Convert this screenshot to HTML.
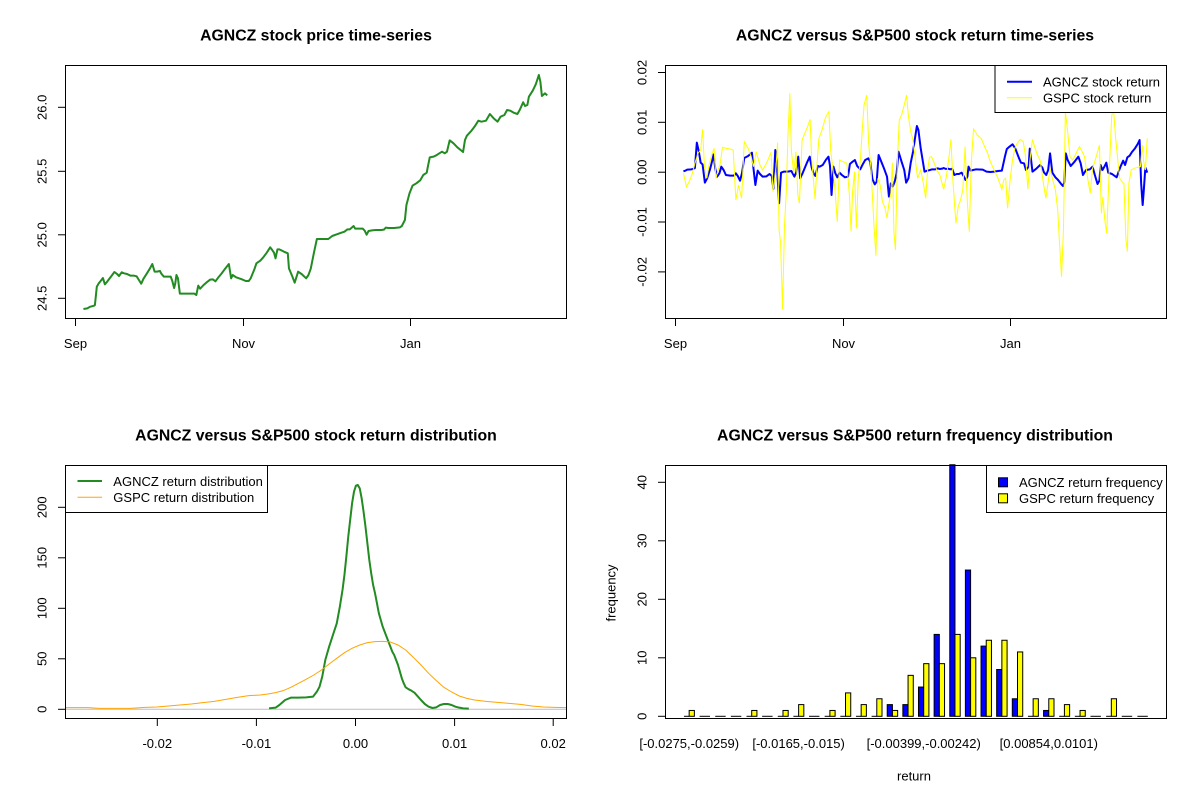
<!DOCTYPE html>
<html><head><meta charset="utf-8"><style>
html,body{margin:0;padding:0;background:#fff;}
svg{display:block;font-family:"Liberation Sans",Arial,sans-serif;}
.t{font-size:15.8px;font-weight:bold;text-anchor:middle;}
.l{font-size:13px;text-anchor:middle;}
.lg{font-size:13px;}
</style></head><body>
<svg width="1200" height="800" viewBox="0 0 1200 800" xmlns="http://www.w3.org/2000/svg">
<rect width="1200" height="800" fill="#fff"/>

<!-- ============ PANEL 1 ============ -->
<text class="t" x="316" y="40.5">AGNCZ stock price time-series</text>
<g transform="translate(0,50) scale(0.3827,0.33333)">
<polyline fill="none" stroke="#228B22" stroke-width="2" vector-effect="non-scaling-stroke" stroke-linejoin="round" points="218,777 228,775 236,770 246,767 248,765 253,710 258,700 265,690 269,684 274,703 280,695 290,680 299,666 306,672 311,678 318,667 324,670 332,672 341,677 350,677 357,679 363,690 369,701 375,686 384,670 392,655 398,642 404,665 410,665 418,663 421,670 428,680 440,680 446,680 450,692 455,714 458,700 461,675 465,685 470,731 478,731 490,731 500,731 508,731 513,735 518,707 523,716 532,705 540,697 549,689 556,688 563,694 570,683 578,672 589,655 598,642 604,685 608,675 617,682 632,688 642,693 650,693 655,685 665,657 670,640 680,632 688,622 697,608 706,592 710,598 716,608 720,625 725,598 730,598 742,605 752,610 755,655 763,677 770,698 779,665 788,672 800,685 806,675 812,656 820,610 828,567 836,567 848,567 858,567 868,558 880,553 892,548 900,545 908,538 914,538 918,534 924,528 928,536 938,536 948,536 953,542 958,554 963,543 972,541 982,540 996,540 1003,539 1008,533 1015,534 1030,534 1045,532 1050,528 1058,510 1062,465 1070,430 1078,407 1088,400 1098,391 1106,375 1115,368 1118,350 1123,322 1133,320 1140,316 1148,310 1155,305 1162,310 1168,305 1175,271 1185,280 1195,292 1210,306 1215,270 1220,257 1232,242 1240,230 1250,212 1258,215 1270,212 1280,192 1290,205 1300,215 1308,200 1318,195 1325,180 1333,182 1342,188 1352,192 1358,180 1367,157 1372,168 1378,165 1382,140 1392,122 1400,103 1408,75 1412,95 1416,138 1424,130 1430,136"/>
</g>
<rect x="65.5" y="65.5" width="501" height="253" fill="none" stroke="#000" stroke-width="1"/>
<g stroke="#000" stroke-width="1">
<line x1="58" y1="107.3" x2="65.5" y2="107.3"/>
<line x1="58" y1="171.3" x2="65.5" y2="171.3"/>
<line x1="58" y1="234.8" x2="65.5" y2="234.8"/>
<line x1="58" y1="298.3" x2="65.5" y2="298.3"/>
<line x1="75.5" y1="318.5" x2="75.5" y2="326"/>
<line x1="243.5" y1="318.5" x2="243.5" y2="326"/>
<line x1="410.5" y1="318.5" x2="410.5" y2="326"/>
</g>
<g class="l">
<text class="l" transform="translate(46.5,107.3) rotate(-90)">26.0</text>
<text class="l" transform="translate(46.5,171.3) rotate(-90)">25.5</text>
<text class="l" transform="translate(46.5,234.8) rotate(-90)">25.0</text>
<text class="l" transform="translate(46.5,298.3) rotate(-90)">24.5</text>
<text class="l" x="75.5" y="348">Sep</text>
<text class="l" x="243.5" y="348">Nov</text>
<text class="l" x="410.5" y="348">Jan</text>
</g>

<!-- ============ PANEL 2 ============ -->
<text class="t" x="915" y="40.5">AGNCZ versus S&amp;P500 stock return time-series</text>
<g transform="translate(600,50) scale(0.3827,0.33333)">
<polyline fill="none" stroke="#0000FF" stroke-width="2" vector-effect="non-scaling-stroke" stroke-linejoin="round" points="218,364 223,362 228,359 238,358 243,357 248,354 253,278 258,303 263,338 268,343 274,398 280,385 287,360 292,338 297,313 301,355 306,380 312,370 317,350 323,360 329,375 340,377 350,377 355,370 360,378 366,392 371,369 377,324 387,318 397,308 401,355 406,405 412,362 418,372 425,380 435,379 443,372 449,378 453,417 458,300 462,340 468,460 473,368 480,365 490,365 500,363 508,380 513,366 518,320 523,385 530,368 540,340 548,320 553,352 558,370 563,378 569,348 574,350 582,345 590,330 597,320 601,348 605,435 610,350 615,370 620,382 626,368 632,375 640,382 648,380 653,342 660,335 666,330 672,348 680,358 687,342 693,330 701,325 706,335 712,388 718,403 723,395 728,315 735,335 742,355 750,380 755,440 760,400 765,410 770,395 775,370 780,305 788,335 795,360 800,398 806,385 812,338 818,305 823,265 828,228 832,240 838,295 843,330 848,365 855,362 862,360 868,358 876,358 882,355 888,357 894,356 898,354 904,357 910,356 915,358 920,356 926,375 932,372 938,372 945,368 950,378 955,390 960,380 963,350 968,362 975,360 983,358 1000,359 1010,365 1020,366 1030,365 1040,363 1050,362 1058,320 1063,297 1070,290 1078,283 1085,295 1090,310 1095,325 1100,338 1108,340 1113,360 1120,350 1123,296 1130,365 1140,356 1150,345 1156,353 1160,367 1166,375 1171,360 1176,310 1182,368 1190,382 1197,390 1205,402 1210,408 1213,398 1217,310 1222,330 1230,348 1240,335 1250,320 1256,340 1262,375 1270,360 1280,358 1287,350 1293,375 1300,402 1305,392 1308,345 1313,360 1318,350 1323,338 1328,368 1338,372 1350,382 1360,350 1367,332 1372,345 1378,322 1384,317 1390,306 1398,295 1405,282 1410,270 1414,400 1418,465 1421,420 1425,353 1430,368"/>
<polyline fill="none" stroke="#FFFF00" stroke-width="1" vector-effect="non-scaling-stroke" points="218,370 226,410 233,395 240,375 248,340 256,310 263,300 268,237 273,350 279,385 285,345 292,315 298,295 303,385 308,362 314,342 320,292 330,295 340,297 348,300 355,450 362,405 370,445 377,275 387,295 395,320 401,350 408,305 418,345 425,360 435,340 447,307 452,425 460,350 464,278 468,540 472,580 477,778 482,530 487,420 491,260 496,130 500,300 506,370 512,305 517,435 521,460 528,270 535,250 543,228 549,208 553,325 557,380 562,448 567,345 572,265 580,240 590,200 598,185 603,305 608,350 614,420 620,515 626,330 635,335 645,340 652,440 656,545 660,425 665,365 670,535 675,380 680,335 685,245 690,165 697,135 702,280 708,355 712,440 716,530 721,617 726,385 732,405 738,455 745,475 750,505 755,460 760,430 764,338 768,545 772,600 777,335 782,210 788,195 795,165 801,135 806,200 812,245 818,270 824,330 830,385 838,360 845,400 851,445 856,360 861,322 866,320 872,335 880,360 888,375 898,418 905,380 912,320 917,268 922,390 930,520 936,470 942,450 948,420 954,290 960,460 965,545 970,340 976,237 986,255 996,265 1005,290 1013,310 1020,335 1030,360 1040,385 1050,418 1055,390 1060,385 1065,475 1072,385 1078,330 1084,295 1090,280 1098,268 1106,275 1112,320 1118,418 1123,335 1130,268 1137,295 1143,315 1150,330 1158,395 1165,445 1170,405 1176,355 1182,385 1190,420 1196,480 1201,585 1206,680 1211,540 1216,185 1222,245 1228,320 1235,330 1242,315 1248,300 1253,290 1260,305 1266,320 1271,360 1275,390 1281,430 1287,355 1294,330 1299,310 1305,285 1310,490 1314,440 1319,510 1324,550 1330,380 1337,200 1341,165 1347,260 1353,330 1358,385 1364,395 1369,400 1374,565 1378,605 1382,400 1388,360 1396,355 1404,352 1412,350 1417,285 1420,330 1425,360 1430,265"/>
</g>
<rect x="665.5" y="65.5" width="501" height="253" fill="none" stroke="#000" stroke-width="1"/>
<rect x="995" y="65.5" width="171.5" height="47" fill="#fff" stroke="#000" stroke-width="1"/>
<line x1="1007" y1="81.7" x2="1032" y2="81.7" stroke="#0000FF" stroke-width="2"/>
<line x1="1007" y1="97.7" x2="1032" y2="97.7" stroke="#FFFF00" stroke-width="1"/>
<text class="lg" x="1043" y="86.3">AGNCZ stock return</text>
<text class="lg" x="1043" y="102.3">GSPC stock return</text>
<g stroke="#000" stroke-width="1">
<line x1="658" y1="72.5" x2="665.5" y2="72.5"/>
<line x1="658" y1="122.3" x2="665.5" y2="122.3"/>
<line x1="658" y1="172.2" x2="665.5" y2="172.2"/>
<line x1="658" y1="222" x2="665.5" y2="222"/>
<line x1="658" y1="271.9" x2="665.5" y2="271.9"/>
<line x1="675.5" y1="318.5" x2="675.5" y2="326"/>
<line x1="843.5" y1="318.5" x2="843.5" y2="326"/>
<line x1="1010.5" y1="318.5" x2="1010.5" y2="326"/>
</g>
<text class="l" transform="translate(646.5,72.5) rotate(-90)">0.02</text>
<text class="l" transform="translate(646.5,122.3) rotate(-90)">0.01</text>
<text class="l" transform="translate(646.5,172.2) rotate(-90)">0.00</text>
<text class="l" transform="translate(646.5,222) rotate(-90)">-0.01</text>
<text class="l" transform="translate(646.5,271.9) rotate(-90)">-0.02</text>
<text class="l" x="675.5" y="348">Sep</text>
<text class="l" x="843.5" y="348">Nov</text>
<text class="l" x="1010.5" y="348">Jan</text>

<!-- ============ PANEL 3 ============ -->
<text class="t" x="316" y="440.5">AGNCZ versus S&amp;P500 stock return distribution</text>
<line x1="66" y1="709.3" x2="566" y2="709.3" stroke="#BEBEBE" stroke-width="1"/>
<g transform="translate(0,450) scale(0.3827,0.33333)">
<polyline fill="none" stroke="#228B22" stroke-width="2" vector-effect="non-scaling-stroke" stroke-linejoin="round" points="703,775 720,773 730,765 745,750 760,743 780,743 800,742 818,740 828,725 835,710 842,680 850,630 860,590 870,555 880,520 888,470 895,420 900,375 905,320 910,260 915,210 920,160 925,125 930,107 935,105 940,115 945,145 950,185 955,230 960,280 965,330 970,370 975,405 980,430 985,460 990,490 995,510 1000,530 1005,545 1010,560 1015,575 1020,590 1025,605 1030,615 1035,630 1040,645 1045,665 1050,685 1055,700 1060,712 1068,718 1075,722 1083,728 1090,737 1100,750 1110,762 1120,770 1130,774 1140,772 1150,765 1160,762 1170,762 1180,765 1190,770 1200,773 1210,775 1225,776"/>
<polyline fill="none" stroke="#FFA500" stroke-width="1" vector-effect="non-scaling-stroke" points="171,773 200,773 230,773 260,775 300,775 340,775 380,772 410,771 440,768 470,765 500,762 530,758 560,754 590,748 620,742 650,737 680,735 700,732 720,728 740,722 760,712 780,700 800,688 820,675 840,660 860,642 880,625 900,608 920,595 940,585 960,578 980,575 1000,574 1020,576 1040,585 1060,600 1080,622 1100,645 1120,670 1140,692 1160,712 1180,726 1200,738 1220,745 1240,750 1270,754 1300,757 1330,760 1360,763 1390,768 1420,771 1450,772 1480,773"/>
</g>
<rect x="65.5" y="465.5" width="501" height="253" fill="none" stroke="#000" stroke-width="1"/>
<rect x="65.5" y="465.5" width="202" height="47" fill="#fff" stroke="#000" stroke-width="1"/>
<line x1="77.5" y1="481" x2="102" y2="481" stroke="#228B22" stroke-width="2"/>
<line x1="77.5" y1="497.3" x2="102" y2="497.3" stroke="#FFA500" stroke-width="1"/>
<text class="lg" x="113.3" y="485.8">AGNCZ return distribution</text>
<text class="lg" x="113.3" y="502">GSPC return distribution</text>
<g stroke="#000" stroke-width="1">
<line x1="58" y1="709.3" x2="65.5" y2="709.3"/>
<line x1="58" y1="658.8" x2="65.5" y2="658.8"/>
<line x1="58" y1="608.3" x2="65.5" y2="608.3"/>
<line x1="58" y1="557.8" x2="65.5" y2="557.8"/>
<line x1="58" y1="507.3" x2="65.5" y2="507.3"/>
<line x1="157.3" y1="718.5" x2="157.3" y2="726"/>
<line x1="256.4" y1="718.5" x2="256.4" y2="726"/>
<line x1="355.5" y1="718.5" x2="355.5" y2="726"/>
<line x1="454.6" y1="718.5" x2="454.6" y2="726"/>
<line x1="553.2" y1="718.5" x2="553.2" y2="726"/>
</g>
<text class="l" transform="translate(46.5,709.3) rotate(-90)">0</text>
<text class="l" transform="translate(46.5,658.8) rotate(-90)">50</text>
<text class="l" transform="translate(46.5,608.3) rotate(-90)">100</text>
<text class="l" transform="translate(46.5,557.8) rotate(-90)">150</text>
<text class="l" transform="translate(46.5,507.3) rotate(-90)">200</text>
<text class="l" x="157.3" y="748">-0.02</text>
<text class="l" x="256.4" y="748">-0.01</text>
<text class="l" x="355.5" y="748">0.00</text>
<text class="l" x="454.6" y="748">0.01</text>
<text class="l" x="553.2" y="748">0.02</text>

<!-- ============ PANEL 4 ============ -->
<text class="t" x="915" y="440.5">AGNCZ versus S&amp;P500 return frequency distribution</text>
<g stroke="#000" stroke-width="1">
<!-- zero-height bars as lines -->
<line x1="683.95" y1="716.3" x2="689.16" y2="716.3"/>
<line x1="699.59" y1="716.3" x2="710.01" y2="716.3"/>
<line x1="715.22" y1="716.3" x2="725.65" y2="716.3"/>
<line x1="730.86" y1="716.3" x2="741.29" y2="716.3"/>
<line x1="746.50" y1="716.3" x2="751.71" y2="716.3"/>
<line x1="762.13" y1="716.3" x2="772.56" y2="716.3"/>
<line x1="777.77" y1="716.3" x2="782.98" y2="716.3"/>
<line x1="793.40" y1="716.3" x2="798.62" y2="716.3"/>
<line x1="809.04" y1="716.3" x2="819.46" y2="716.3"/>
<line x1="824.67" y1="716.3" x2="829.89" y2="716.3"/>
<line x1="840.31" y1="716.3" x2="845.52" y2="716.3"/>
<line x1="855.95" y1="716.3" x2="861.16" y2="716.3"/>
<line x1="871.58" y1="716.3" x2="876.79" y2="716.3"/>
<line x1="1027.93" y1="716.3" x2="1033.14" y2="716.3"/>
<line x1="1059.20" y1="716.3" x2="1064.41" y2="716.3"/>
<line x1="1074.84" y1="716.3" x2="1080.05" y2="716.3"/>
<line x1="1090.47" y1="716.3" x2="1100.90" y2="716.3"/>
<line x1="1106.11" y1="716.3" x2="1111.32" y2="716.3"/>
<line x1="1121.74" y1="716.3" x2="1132.17" y2="716.3"/>
<line x1="1137.38" y1="716.3" x2="1147.80" y2="716.3"/>
</g>
<g stroke="#000" stroke-width="1" fill="#0000FF">
<rect x="887.22" y="704.6" width="5.21" height="11.7"/>
<rect x="902.85" y="704.6" width="5.21" height="11.7"/>
<rect x="918.49" y="687.05" width="5.21" height="29.25"/>
<rect x="934.12" y="634.4" width="5.21" height="81.9"/>
<rect x="949.76" y="464.75" width="5.21" height="251.55"/>
<rect x="965.39" y="570.05" width="5.21" height="146.25"/>
<rect x="981.03" y="646.1" width="5.21" height="70.2"/>
<rect x="996.66" y="669.5" width="5.21" height="46.8"/>
<rect x="1012.30" y="698.75" width="5.21" height="17.55"/>
<rect x="1043.57" y="710.45" width="5.21" height="5.85"/>
</g>
<g stroke="#000" stroke-width="1" fill="#FFFF00">
<rect x="689.16" y="710.45" width="5.21" height="5.85"/>
<rect x="751.71" y="710.45" width="5.21" height="5.85"/>
<rect x="782.98" y="710.45" width="5.21" height="5.85"/>
<rect x="798.62" y="704.6" width="5.21" height="11.7"/>
<rect x="829.89" y="710.45" width="5.21" height="5.85"/>
<rect x="845.52" y="692.9" width="5.21" height="23.4"/>
<rect x="861.16" y="704.6" width="5.21" height="11.7"/>
<rect x="876.79" y="698.75" width="5.21" height="17.55"/>
<rect x="892.43" y="710.45" width="5.21" height="5.85"/>
<rect x="908.06" y="675.35" width="5.21" height="40.95"/>
<rect x="923.70" y="663.65" width="5.21" height="52.65"/>
<rect x="939.33" y="663.65" width="5.21" height="52.65"/>
<rect x="954.97" y="634.4" width="5.21" height="81.9"/>
<rect x="970.60" y="657.8" width="5.21" height="58.5"/>
<rect x="986.24" y="640.25" width="5.21" height="76.05"/>
<rect x="1001.87" y="640.25" width="5.21" height="76.05"/>
<rect x="1017.51" y="651.95" width="5.21" height="64.35"/>
<rect x="1033.14" y="698.75" width="5.21" height="17.55"/>
<rect x="1048.78" y="698.75" width="5.21" height="17.55"/>
<rect x="1064.41" y="704.6" width="5.21" height="11.7"/>
<rect x="1080.05" y="710.45" width="5.21" height="5.85"/>
<rect x="1111.32" y="698.75" width="5.21" height="17.55"/>
</g>
<rect x="665.5" y="465.5" width="501" height="253" fill="none" stroke="#000" stroke-width="1"/>
<rect x="986.5" y="465.5" width="180" height="47" fill="#fff" stroke="#000" stroke-width="1"/>
<rect x="998.5" y="477.8" width="9" height="9" fill="#0000FF" stroke="#000" stroke-width="1"/>
<rect x="998.5" y="493.8" width="9" height="9" fill="#FFFF00" stroke="#000" stroke-width="1"/>
<text class="lg" x="1019" y="486.8">AGNCZ return frequency</text>
<text class="lg" x="1019" y="502.8">GSPC return frequency</text>
<g stroke="#000" stroke-width="1">
<line x1="658" y1="716.3" x2="665.5" y2="716.3"/>
<line x1="658" y1="657.8" x2="665.5" y2="657.8"/>
<line x1="658" y1="599.3" x2="665.5" y2="599.3"/>
<line x1="658" y1="540.8" x2="665.5" y2="540.8"/>
<line x1="658" y1="482.3" x2="665.5" y2="482.3"/>
</g>
<text class="l" transform="translate(646.5,716.3) rotate(-90)">0</text>
<text class="l" transform="translate(646.5,657.8) rotate(-90)">10</text>
<text class="l" transform="translate(646.5,599.3) rotate(-90)">20</text>
<text class="l" transform="translate(646.5,540.8) rotate(-90)">30</text>
<text class="l" transform="translate(646.5,482.3) rotate(-90)">40</text>
<text class="l" x="689.2" y="748">[-0.0275,-0.0259)</text>
<text class="l" x="798.6" y="748">[-0.0165,-0.015)</text>
<text class="l" x="923.7" y="748">[-0.00399,-0.00242)</text>
<text class="l" x="1048.8" y="748">[0.00854,0.0101)</text>
<text class="l" x="914" y="780.3">return</text>
<text class="l" transform="translate(615.5,593) rotate(-90)">frequency</text>
</svg>
</body></html>
